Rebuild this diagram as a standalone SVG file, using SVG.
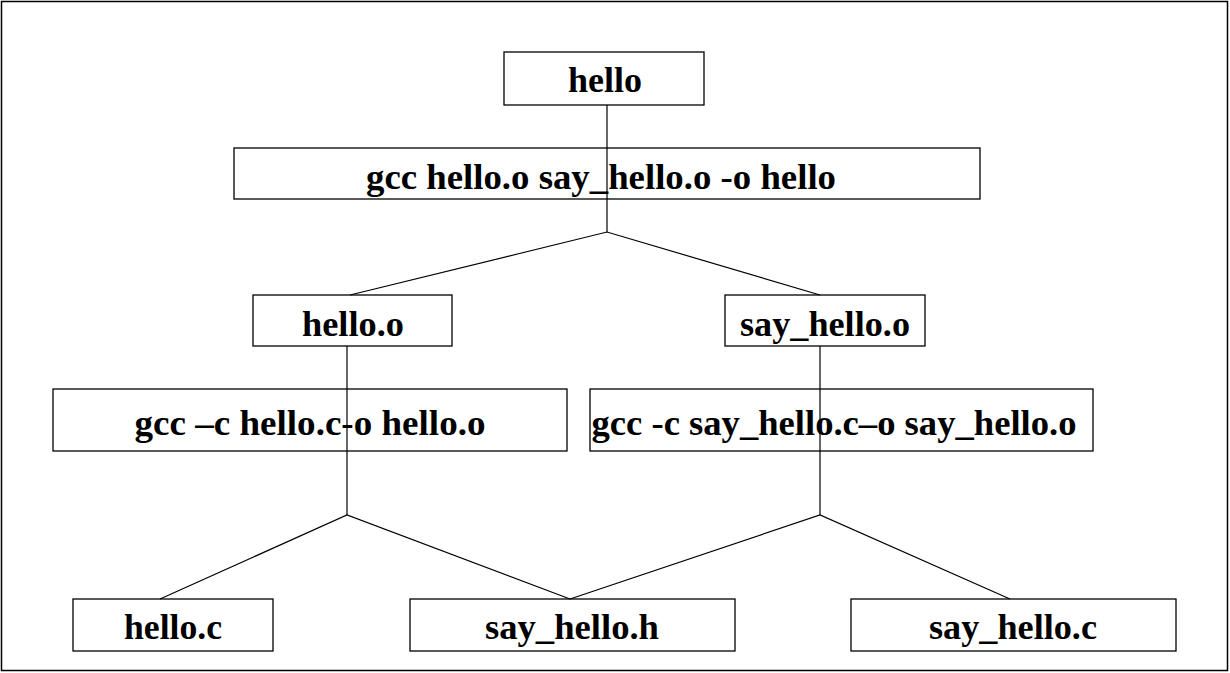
<svg xmlns="http://www.w3.org/2000/svg" width="1230" height="673" viewBox="0 0 1230 673">
<style>
.b{fill:#fff;stroke:#000;stroke-width:1.3}
.t{font-family:"Liberation Serif","Times New Roman",serif;font-weight:bold;font-size:36px;text-anchor:middle;fill:#000;lengthAdjust:spacingAndGlyphs}
.c{stroke:#000;stroke-width:1.2;fill:none}
</style>
<rect x="0" y="0" width="1230" height="673" fill="#fff"/>
<rect x="1.5" y="1.5" width="1226" height="669" fill="none" stroke="#000" stroke-width="1.5"/>
<g id="n-hello"><rect class="b" x="504" y="52" width="200" height="53"/><text class="t" x="605" y="92" textLength="74" lengthAdjust="spacingAndGlyphs">hello</text></g>
<g id="n-link"><rect class="b" x="234" y="148" width="746" height="51"/><text class="t" x="601" y="189" textLength="470" lengthAdjust="spacingAndGlyphs">gcc hello.o say_hello.o -o hello</text></g>
<g id="n-hello-o"><rect class="b" x="253" y="295" width="199" height="51"/><text class="t" x="353" y="336" textLength="102" lengthAdjust="spacingAndGlyphs">hello.o</text></g>
<g id="n-say-hello-o"><rect class="b" x="725" y="295" width="200" height="51"/><text class="t" x="825" y="336" textLength="170" lengthAdjust="spacingAndGlyphs">say_hello.o</text></g>
<g id="n-cc-hello"><rect class="b" x="53" y="389" width="514" height="62"/><text class="t" x="310" y="435" textLength="351" lengthAdjust="spacingAndGlyphs">gcc –c hello.c-o hello.o</text></g>
<g id="n-cc-say"><rect class="b" x="590" y="389" width="503" height="62"/><text class="t" x="834" y="435" textLength="485" lengthAdjust="spacingAndGlyphs">gcc  -c say_hello.c–o say_hello.o</text></g>
<g id="n-hello-c"><rect class="b" x="73" y="599" width="200" height="52"/><text class="t" x="173" y="639" textLength="98" lengthAdjust="spacingAndGlyphs">hello.c</text></g>
<g id="n-say-hello-h"><rect class="b" x="410" y="599" width="325" height="52"/><text class="t" x="572" y="639" textLength="174" lengthAdjust="spacingAndGlyphs">say_hello.h</text></g>
<g id="n-say-hello-c"><rect class="b" x="851" y="599" width="325" height="52"/><text class="t" x="1013" y="639" textLength="168" lengthAdjust="spacingAndGlyphs">say_hello.c</text></g>
<g id="connectors">
<polyline class="c" points="607,105 607,232"/>
<polyline class="c" points="350,295 607,232 820,295"/>
<polyline class="c" points="347,346 347,515"/>
<polyline class="c" points="820,346 820,515"/>
<polyline class="c" points="160,599 347,515 570,599"/>
<polyline class="c" points="570,599 820,515 1010,599"/>
</g>
</svg>
